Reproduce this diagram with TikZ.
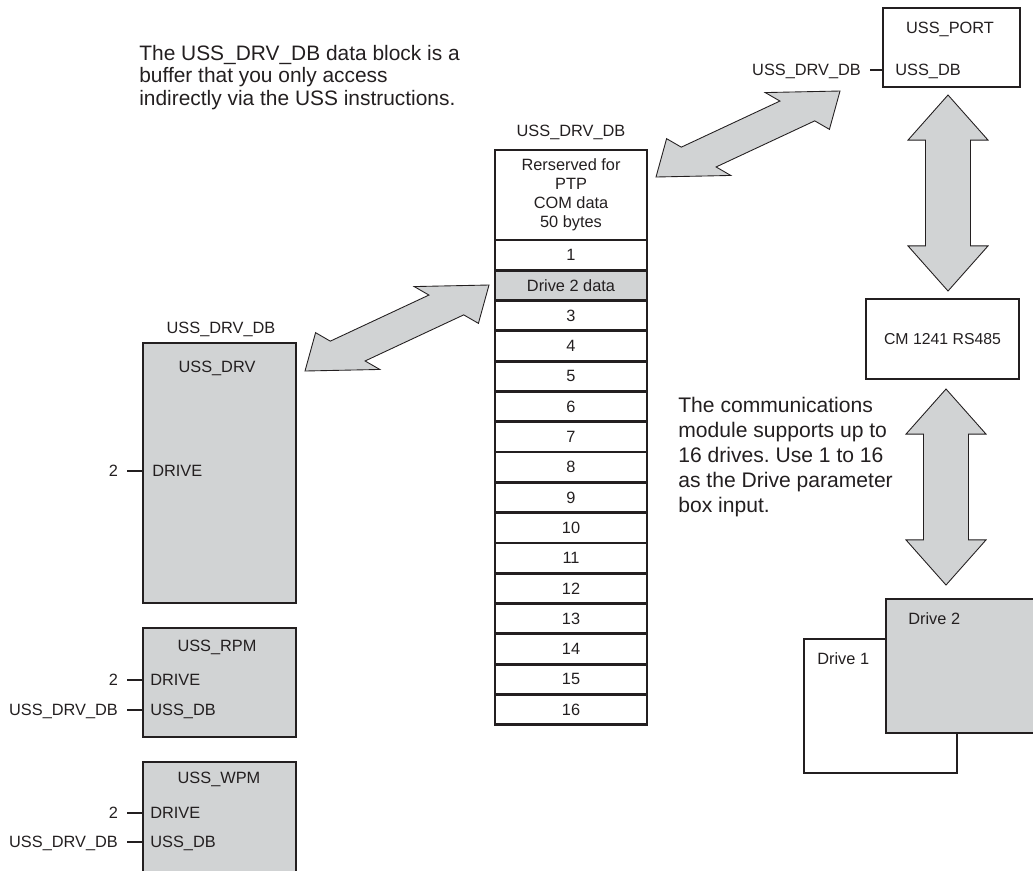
\documentclass[tikz,border=0pt]{standalone}
\usepackage{fontspec}
\setmainfont{Liberation Sans}
\usetikzlibrary{positioning,calc}
\frenchspacing

\definecolor{ink}{HTML}{231F20}
\definecolor{boxgray}{HTML}{D1D3D4}

% fat two-headed arrow: tips #1 and #2, head base at fraction #3,
% half widths of head (#4) and shaft (#5) given as offset vectors
\newcommand\blockarrow[5]{%
  \filldraw[bigarrow] (#1) -- ($(#1)!#3!(#2)-#4$) -- ($(#1)!#3!(#2)-#5$)
    -- ($(#2)!#3!(#1)-#5$) -- ($(#2)!#3!(#1)-#4$) -- (#2)
    -- ($(#2)!#3!(#1)+#4$) -- ($(#2)!#3!(#1)+#5$)
    -- ($(#1)!#3!(#2)+#5$) -- ($(#1)!#3!(#2)+#4$) -- cycle;}

\begin{document}
\begin{tikzpicture}[x=0.02cm,y=-0.02cm,text=ink,
  font=\fontsize{9.3}{11}\selectfont,
  fb/.style={draw=ink,fill=boxgray,line width=1.6pt,minimum width=3.06cm,outer sep=0},
  wb/.style={draw=ink,fill=white,line width=1.6pt,outer sep=0},
  cell/.style={draw=ink,line width=1.6pt,minimum width=3.04cm,minimum height=0.606cm,
    inner sep=0,outer sep=0},
  lbl/.style={anchor=base,inner sep=0},
  pname/.style={anchor=west,inner sep=0,text height=6.6pt,text depth=0pt},
  pval/.style={anchor=east,inner xsep=5pt,inner ysep=0,text height=6.6pt,text depth=0pt},
  pin/.style={draw=ink,line width=1.6pt},
  bigarrow/.style={draw=ink,fill=boxgray,line width=0.5pt},
  note/.style={anchor=north west,align=left,inner sep=0,font=\fontsize{12}{14.2}\selectfont}]

  \useasboundingbox (0,0) rectangle (1033,870);
  \clip (0,0) rectangle (1033,870);

  \node[note,font=\fontsize{11.9}{12.75}\selectfont] (dbnote) at (139,45)
    {The USS\_DRV\_DB data block is a\\buffer that you only access\\indirectly via the USS instructions.};
  \node[note] (cmnote) at (678,397)
    {The communications\\module supports up to\\16 drives. Use 1 to 16\\as the Drive parameter\\box input.};

  % data block
  \node[lbl] (dbname) at (571,136) {USS\_DRV\_DB};
  \node[cell,minimum height=1.8cm,align=center,font=\fontsize{9.3}{10.8}\selectfont] (hdr) at (571,195)
    {Rerserved for\\PTP\\COM data\\50 bytes};
  \node[cell,below=0pt of hdr] (r1) {1};
  \node[cell,fill=boxgray,below=0pt of r1] (r2) {Drive 2 data};
  \foreach \i [remember=\i as \j (initially 2)] in {3,...,16}
    \node[cell,below=0pt of r\j] (r\i) {\i};

  % instruction boxes
  \node[lbl] (drvdb) at (221,333) {USS\_DRV\_DB};
  \node[fb,minimum height=5.2cm] (drv) at (219.5,473) {};
  \node[lbl] (drvname) at (217,372) {USS\_DRV};
  \node[pname] (drvdrive) at (152,471) {DRIVE};
  \node[pval] (drvnr) at (127,471) {2};
  \draw[pin] (drvnr) -- (drvnr -| drv.west);

  \node[fb,minimum height=2.18cm] (rpm) at (219.5,682.5) {};
  \node[lbl] (rpmname) at (217,651) {USS\_RPM};
  \node[pname] (rpmdrive) at (150,680) {DRIVE};
  \node[pname] (rpmdb) at (150,710) {USS\_DB};
  \node[pval] (rpmnr) at (127,680) {2};
  \node[pval] (rpmdbval) at (127,710) {USS\_DRV\_DB};
  \draw[pin] (rpmnr) -- (rpmnr -| rpm.west);
  \draw[pin] (rpmdbval) -- (rpmdbval -| rpm.west);

  \node[fb,minimum height=2.8cm] (wpm) at (219.5,832) {};
  \node[lbl] (wpmname) at (219,783) {USS\_WPM};
  \node[pname] (wpmdrive) at (150,813) {DRIVE};
  \node[pname] (wpmdb) at (150,842) {USS\_DB};
  \node[pval] (wpmnr) at (127,813) {2};
  \node[pval] (wpmdbval) at (127,842) {USS\_DRV\_DB};
  \draw[pin] (wpmnr) -- (wpmnr -| wpm.west);
  \draw[pin] (wpmdbval) -- (wpmdbval -| wpm.west);

  % port, module and drives
  \node[wb,minimum width=2.74cm,minimum height=1.58cm] (port) at (951.5,47.5) {};
  \node[lbl] (portname) at (950,33) {USS\_PORT};
  \node[pname] (portdb) at (895,70) {USS\_DB};
  \node[pval] (portdbval) at (870,70) {USS\_DRV\_DB};
  \draw[pin] (portdbval) -- (portdbval -| port.west);

  \node[wb,minimum width=3.06cm,minimum height=1.6cm,font=\fontsize{9}{11}\selectfont] (cm) at (942.5,339) {CM 1241 RS485};

  \node[wb,minimum width=3.06cm,minimum height=2.68cm] (drive1) at (880.5,706) {};
  \node[lbl,anchor=base west] (drive1name) at (817,664) {Drive 1};
  \node[fb,minimum width=3.08cm,minimum height=2.68cm] (drive2) at (963,666) {};
  \node[lbl,anchor=base west] (drive2name) at (908,624) {Drive 2};

  % arrow tips
  \coordinate (ta) at (656,177); \coordinate (tb) at (840,91);
  \coordinate (ma) at (305,371); \coordinate (mb) at (489,285);
  \coordinate (pa) at (948,95);  \coordinate (pb) at (948,291);
  \coordinate (ca) at (946,389); \coordinate (cb) at (946,585);

  \blockarrow{ta}{tb}{0.232}{(32.1,18.4)}{(17.4,9.9)}
  \blockarrow{ma}{mb}{0.232}{(32.1,18.4)}{(17.4,9.9)}
  \blockarrow{pa}{pb}{0.23}{(40,0)}{(22.5,0)}
  \blockarrow{ca}{cb}{0.23}{(40,0)}{(22.5,0)}
\end{tikzpicture}
\end{document}
